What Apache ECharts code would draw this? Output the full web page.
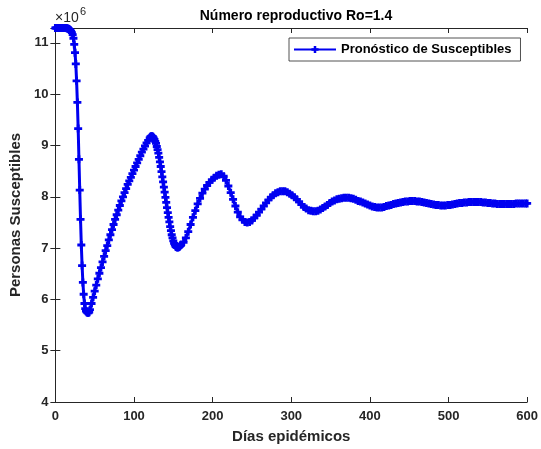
<!DOCTYPE html>
<html>
<head>
<meta charset="utf-8">
<script src="https://cdn.jsdelivr.net/npm/echarts@6/dist/echarts.min.js"></script>
<style>
html,body{margin:0;padding:0;background:#fff;}
#chart{width:541px;height:449px;}
</style>
</head>
<body>
<div id="chart"></div>
<script>
// ---- DATA (days, susceptibles in millions) ----
const dias = [
  0,1,2,3,4,5,6,7,8,9,10,11,12,13,14,15,16,17,18,19,20,21,22,23,24,25,26,27,28,29,30,31,32,33,34,35,36,37,38,39,40,41,42,43,
  44,46,48,50,52,54,56,58,60,62,64,66,68,70,72,74,76,78,80,82,84,86,88,90,92,94,96,98,100,102,104,106,108,110,112,114,116,118,120,
  121,122,123,124,125,126,127,128,129,130,131,132,133,134,135,136,137,138,139,140,141,142,143,144,145,146,147,148,149,150,151,152,153,154,155,156,157,158,159,160,
  163,166,169,172,175,178,181,184,187,190,193,196,199,202,205,208,211,214,217,220,223,226,229,232,235,238,241,244,247,250,253,256,259,262,265,268,271,274,277,280,
  283,286,289,292,295,298,301,304,307,310,313,316,319,322,325,328,331,334,337,340,343,346,349,352,355,358,361,364,367,370,373,376,379,382,385,388,391,394,397,400,
  403,406,409,412,415,418,421,424,427,430,433,436,439,442,445,448,451,454,457,460,463,466,469,472,475,478,481,484,487,490,493,496,499,502,505,508,511,514,517,520,
  523,526,529,532,535,538,541,544,547,550,553,556,559,562,565,568,571,574,577,580,583,586,589,592,595,598,600
];
const susceptibles = [
  11.29,11.29,11.29,11.29,11.29,11.29,11.29,11.29,11.29,11.29,11.29,11.29,11.29,11.29,11.29,11.28,11.28,11.27,11.26,11.25,11.23,11.20,11.16,11.09,10.97,10.81,10.59,10.26,9.84,9.33,8.73,8.13,7.56,7.06,6.66,6.33,6.10,5.92,5.82,5.77,5.75,5.74,5.74,5.75,
  5.80,5.92,6.04,6.16,6.28,6.40,6.51,6.62,6.73,6.84,6.95,7.05,7.16,7.26,7.36,7.46,7.56,7.65,7.74,7.83,7.92,8.00,8.08,8.16,8.24,8.31,8.38,8.45,8.52,8.59,8.66,8.73,8.80,8.87,8.93,8.99,9.05,9.10,9.15,
  9.17,9.18,9.18,9.17,9.15,9.12,9.08,9.04,8.98,8.92,8.85,8.77,8.68,8.59,8.49,8.39,8.29,8.19,8.09,7.99,7.89,7.79,7.69,7.60,7.51,7.42,7.34,7.26,7.20,7.14,7.09,7.06,7.03,7.02,7.01,7.01,7.02,7.03,7.05,7.07,
  7.11,7.20,7.32,7.46,7.60,7.73,7.86,7.97,8.07,8.15,8.22,8.28,8.33,8.37,8.41,8.43,8.44,8.40,8.32,8.21,8.08,7.95,7.82,7.70,7.61,7.55,7.51,7.50,7.51,7.54,7.59,7.64,7.70,7.76,7.82,7.88,7.94,7.99,8.03,8.07,
  8.09,8.11,8.11,8.11,8.09,8.06,8.03,7.99,7.95,7.90,7.85,7.80,7.77,7.74,7.73,7.72,7.72,7.73,7.75,7.78,7.81,7.84,7.88,7.91,7.93,7.95,7.96,7.97,7.98,7.98,7.98,7.97,7.96,7.94,7.92,7.91,7.89,7.87,7.85,7.83,
  7.81,7.80,7.79,7.79,7.79,7.80,7.82,7.83,7.84,7.86,7.87,7.88,7.89,7.90,7.91,7.91,7.92,7.92,7.92,7.91,7.91,7.90,7.89,7.88,7.87,7.86,7.85,7.84,7.84,7.83,7.83,7.83,7.84,7.84,7.85,7.86,7.87,7.88,7.88,7.89,
  7.89,7.90,7.90,7.90,7.90,7.90,7.90,7.89,7.89,7.88,7.88,7.87,7.87,7.86,7.86,7.86,7.86,7.86,7.86,7.86,7.86,7.87,7.87,7.87,7.87,7.87,7.87
];
const xTicks = [0, 600, 100];     // min, max, interval
const yTicks = [4, 11.29, 1];     // min, max (top of data), interval
const seriesName = 'Pronóstico de Susceptibles';
const titleText = 'Número reproductivo Ro=1.4';
const xName = 'Días epidémicos';
const yName = 'Personas Susceptibles';

const n = Math.min(dias.length, susceptibles.length);
const points = [];
for (let i = 0; i < n; i++) points.push([dias[i], susceptibles[i]]);

const FONT = '"Liberation Sans", Arial, Helvetica, sans-serif';
const AX = '#262626';
const BLUE = '#0000f0';
const plus = 'path://M2.6,0H5.4V2.6H8V5.4H5.4V8H2.6V5.4H0V2.6H2.6Z';

const axisCommon = {
  axisLine: {show: true, lineStyle: {color: AX, width: 1}},
  axisTick: {show: true, inside: true, length: 5, lineStyle: {color: AX}},
  splitLine: {show: false}
};

const chart = echarts.init(document.getElementById('chart'), null, {renderer: 'canvas'});
chart.setOption({
  animation: false,
  backgroundColor: '#fff',
  textStyle: {fontFamily: FONT},
  title: {
    text: titleText, left: 291, top: 4, textAlign: 'center',
    textStyle: {fontFamily: FONT, fontSize: 14, fontWeight: 'bold', color: '#000'}
  },
  grid: {left: 53.5, right: 13, top: 28, bottom: 45.5, containLabel: false},
  legend: {
    data: [seriesName], left: 289, top: 38, selectedMode: false,
    backgroundColor: '#fff', borderColor: AX, borderWidth: 0.8,
    padding: [5, 9, 5, 4], itemWidth: 42, itemHeight: 9, itemGap: 4,
    textStyle: {fontFamily: FONT, fontSize: 13, fontWeight: 'bold', color: '#000'}
  },
  xAxis: [
    Object.assign({
      type: 'value', min: xTicks[0], max: xTicks[1], interval: xTicks[2], position: 'bottom',
      name: xName, nameLocation: 'middle', nameGap: 27,
      nameTextStyle: {fontFamily: FONT, fontSize: 15, fontWeight: 'bold', color: AX},
      axisLabel: {fontFamily: FONT, fontSize: 13, fontWeight: 'bold', color: AX, margin: 8}
    }, axisCommon),
    Object.assign({
      type: 'value', min: xTicks[0], max: xTicks[1], interval: xTicks[2], position: 'top',
      axisLabel: {show: false}
    }, axisCommon)
  ],
  yAxis: [
    Object.assign({
      type: 'value', min: yTicks[0], max: yTicks[1], interval: yTicks[2], position: 'left',
      name: yName, nameLocation: 'middle', nameGap: 27, nameRotate: 90,
      nameTextStyle: {fontFamily: FONT, fontSize: 15, fontWeight: 'bold', color: AX},
      axisLabel: {fontFamily: FONT, fontSize: 13, fontWeight: 'bold', color: AX, margin: 7,
        formatter: v => (Math.abs(v - Math.round(v)) < 1e-9 ? String(Math.round(v)) : '')}
    }, axisCommon),
    Object.assign({
      type: 'value', min: yTicks[0], max: yTicks[1], interval: yTicks[2], position: 'right',
      axisLabel: {show: false}
    }, axisCommon)
  ],
  graphic: [
    {type: 'text', left: 55, top: 11, style: {text: '×10', font: '14px ' + FONT, fill: AX}},
    {type: 'text', left: 80, top: 6, style: {text: '6', font: '11px ' + FONT, fill: AX}}
  ],
  series: [{
    name: seriesName, type: 'line', xAxisIndex: 0, yAxisIndex: 0,
    data: points, symbol: plus, symbolSize: 8, showAllSymbol: true,
    itemStyle: {color: BLUE}, lineStyle: {color: BLUE, width: 3},
    clip: false, z: 3
  }]
});
</script>
</body>
</html>
